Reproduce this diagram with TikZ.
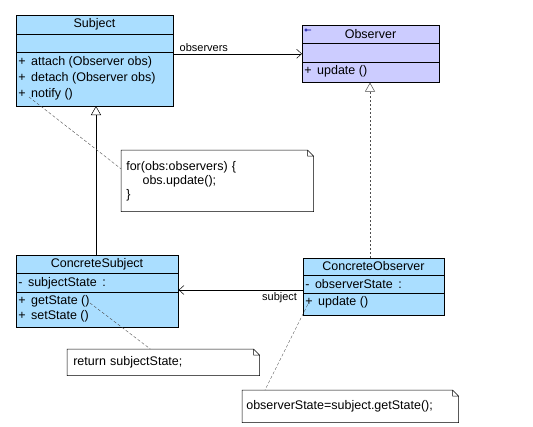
\documentclass[tikz,border=0pt]{standalone}
\usepackage{fontspec}
\setmainfont{Liberation Sans}
\usepackage{tikz}
\usetikzlibrary{arrows.meta,positioning,calc}
\definecolor{classblue}{RGB}{170,222,255}
\definecolor{ifacelilac}{RGB}{204,204,255}
\tikzstyle{classbox}=[rectangle, draw, fill=classblue, anchor=north west, inner sep=0pt]
\tikzstyle{ifacebox}=[classbox, fill=ifacelilac]
\tikzstyle{classname}=[inner sep=0pt, font=\fontsize{12.5}{14}\selectfont]
\tikzstyle{member}=[anchor=west, inner sep=0pt, font=\fontsize{12.5}{14}\selectfont]
\tikzstyle{notebox}=[anchor=north west, inner xsep=5pt, inner ysep=0pt, align=left,
      font=\fontsize{12.5}{14}\selectfont,
      append after command={\pgfextra{\draw[line width=0.5pt]
        (\tikzlastnode.north west) -- ([xshift=-6pt]\tikzlastnode.north east)
        -- ([yshift=-6pt]\tikzlastnode.north east) -- (\tikzlastnode.south east)
        -- (\tikzlastnode.south west) -- cycle
        ([xshift=-6pt]\tikzlastnode.north east) |- ([yshift=-6pt]\tikzlastnode.north east);}}]
\tikzstyle{assoc}=[-{Straight Barb[length=5pt,width=9pt]}, line width=0.5pt]
\tikzstyle{inherit}=[-{Triangle[open,length=9pt,width=10pt]}, line width=0.5pt]
\tikzstyle{noteedge}=[densely dashed, line width=0.4pt, black!70]

\begin{document}
\begin{tikzpicture}[x=1pt, y=-1pt, line width=0.6pt]
    \useasboundingbox (0,0) rectangle (533,426);

    % Subject
    \node[classbox, minimum width=157, minimum height=91] (subject) at (16,15) {};
    \node[classname] (subjectname) at (94.5,24.5) {Subject};
    \draw (16,34) -- (173,34) (16,52) -- (173,52);
    \node[member] (attach) at (18,62) {+ \,attach (Observer obs)};
    \node[member] (detach) at (18,78) {+ \,detach (Observer obs)};
    \node[member] (notify) at (18,94) {+ \,notify ()};

    % Observer
    \node[ifacebox, minimum width=137, minimum height=57] (observer) at (302,25) {};
    \node[classname] (observername) at (370.5,34) {Observer};
    \draw (302,43) -- (439,43) (302,62) -- (439,62);
    \node[member] (update) at (304,71) {+ \,update ()};
    \draw[line width=0.6pt, blue!60!black] (306,30) circle (1.3) (307.3,30) -- (311,30);

    % ConcreteSubject
    \node[classbox, minimum width=162, minimum height=72] (csubject) at (16,255) {};
    \node[classname] (csubjectname) at (97,264) {ConcreteSubject};
    \draw (16,273) -- (178,273) (16,292) -- (178,292);
    \node[member] (substate) at (18,283) {- \,subjectState \,:};
    \node[member] (getstate) at (18,301) {+ \,getState ()};
    \node[member] (setstate) at (18,316) {+ \,setState ()};

    % ConcreteObserver
    \node[classbox, minimum width=141, minimum height=57] (cobserver) at (303,258) {};
    \node[classname] (cobservername) at (373.5,266.5) {ConcreteObserver};
    \draw (303,275) -- (444,275) (303,293) -- (444,293);
    \node[member] (obsstate) at (305,284) {- \,observerState \,:};
    \node[member] (cupdate) at (305,302) {+ \,update ()};

    % notes
    \node[notebox, text width=182, minimum height=61] (loopnote) at (121,150)
      {for(obs:observers) \{\\\hspace*{1.3em}obs.update();\\\}};
    \node[notebox, inner xsep=6pt, text width=180, minimum height=26] (getnote) at (67,349)
      {return subjectState;};
    \node[notebox, inner xsep=4pt, text width=208, minimum height=32] (updnote) at (242,390)
      {observerState=subject.getState();};

    % connectors
    \draw[assoc] (subject.east |- observer.west) -- (observer.west)
      node[pos=0.03, above right, inner sep=2pt, font=\fontsize{11}{12}\selectfont] {observers};
    \draw[inherit] (csubject.north -| 96,0) -- (96,106);
    \draw[inherit, dashed, black!70, dash pattern=on 2pt off 2pt] (cobserver.north -| 370,0) -- (observer.south -| 370,0);
    \draw[assoc] (cobserver.west |- 0,290) -- (csubject.east |- 0,290)
      node[pos=0.03, below left, inner sep=2pt, font=\fontsize{11}{12}\selectfont] {subject};

    \coordinate (notifyend) at (29,97);
    \coordinate (getend) at (90,303);
    \coordinate (updend) at (310,300);
    \draw[noteedge] (notifyend) -- ([yshift=12pt]loopnote.west);
    \draw[noteedge] (getend) -- ([xshift=-13pt]getnote.north);
    \draw[noteedge] (updend) -- ([xshift=23pt]updnote.north west);
\end{tikzpicture}
\end{document}
